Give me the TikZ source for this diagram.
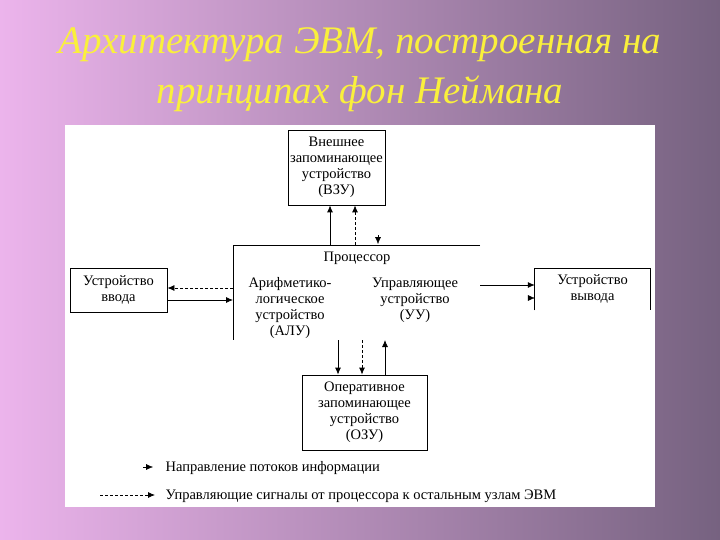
\documentclass[tikz,border=0pt]{standalone}
\usepackage{fontspec}
\setmainfont{Liberation Serif}
\usetikzlibrary{arrows.meta}
\definecolor{bgL}{RGB}{236,180,236}
\definecolor{bgR}{RGB}{118,98,128}
\definecolor{ttl}{RGB}{250,240,60}
\tikzset{
  box/.style={draw,line width=0.8pt,align=center,font=\fontsize{14.5}{16}\selectfont,inner sep=0pt},
  txt/.style={align=center,font=\fontsize{14.5}{16}\selectfont},
  ar/.style={line width=0.8pt,-{Latex[length=7pt,width=6pt]}},
  da/.style={ar,dashed,dash pattern=on 3pt off 2pt},
  ln/.style={line width=0.8pt}
}
\begin{document}
\begin{tikzpicture}[x=1pt,y=-1pt]
\useasboundingbox (0,0) rectangle (720,540);
\shade[left color=bgL,right color=bgR] (0,0) rectangle (720,540);
\node[font=\fontsize{39}{50}\selectfont\itshape,text=ttl,align=center] (title) at (360,70) {Архитектура ЭВМ, построенная на\\принципах фон Неймана};
\fill[white] (65,125) rectangle (655,507);
% boxes
\node[box,minimum width=97pt,minimum height=75pt] (vzu) at (336.5,167.5) {Внешнее\\запоминающее\\устройство\\(ВЗУ)};
\node[box,minimum width=97pt,minimum height=44pt] (inp) at (118.5,290) {Устройство\\ввода};
\node[box,minimum width=125pt,minimum height=75pt] (ozu) at (364.5,412.5) {Оперативное\\запоминающее\\устройство\\(ОЗУ)};
\node[txt,minimum width=115pt,minimum height=42pt,anchor=north] (out) at (592.5,268) {Устройство\\вывода};
\draw[ln] (out.south west) -- (out.north west) -- (out.north east) -- (out.south east);
% processor
\coordinate (pTL) at (233,245);
\coordinate (pTR) at (480,245);
\coordinate (pBL) at (233,340);
\draw[ln] (pTR) -- (pTL) -- (pBL);
\node[txt] (proc) at (357,258) {Процессор};
\node[txt] (alu) at (290,308) {Арифметико-\\логическое\\устройство\\(АЛУ)};
\node[txt] (uu) at (415,300) {Управляющее\\устройство\\(УУ)};
% connectors
\coordinate (a1) at (330,245); \coordinate (a2) at (355,245);
\draw[ar] (a1) -- (vzu.south -| a1);
\draw[da] (a2) -- (vzu.south -| a2);
\coordinate (a3) at (378,235); \coordinate (a4) at (378,244);
\draw[-{Latex[length=7pt,width=6pt]}] (a3) -- (a4);
\coordinate (b1) at (233,288); \coordinate (b2) at (233,300);
\draw[da] (b1) -- (inp.east |- b1);
\draw[ar] (inp.east |- b2) -- (b2);
\coordinate (c1) at (480,285); \coordinate (c2) at (528,298);
\draw[ar] (c1) -- (out.west |- c1);
\draw[-{Latex[length=7pt,width=6pt]}] (c2) -- (out.west |- c2);
\coordinate (d1) at (338,340); \coordinate (d2) at (362,340); \coordinate (d3) at (385,340);
\draw[ar] (d1) -- (ozu.north -| d1);
\draw[da] (d2) -- (ozu.north -| d2);
\draw[ar] (ozu.north -| d3) -- (d3);
% legend
\coordinate (l1) at (143,467); \coordinate (l2) at (153,467);
\draw[-{Latex[length=7pt,width=6pt]}] (l1) -- (l2);
\node[txt,anchor=west] (lt1) at (162,468) {Направление потоков информации};
\coordinate (l3) at (100,495); \coordinate (l4) at (155,495);
\draw[da] (l3) -- (l4);
\node[txt,anchor=west] (lt2) at (162,496) {Управляющие сигналы от процессора к остальным узлам ЭВМ};
\end{tikzpicture}
\end{document}
